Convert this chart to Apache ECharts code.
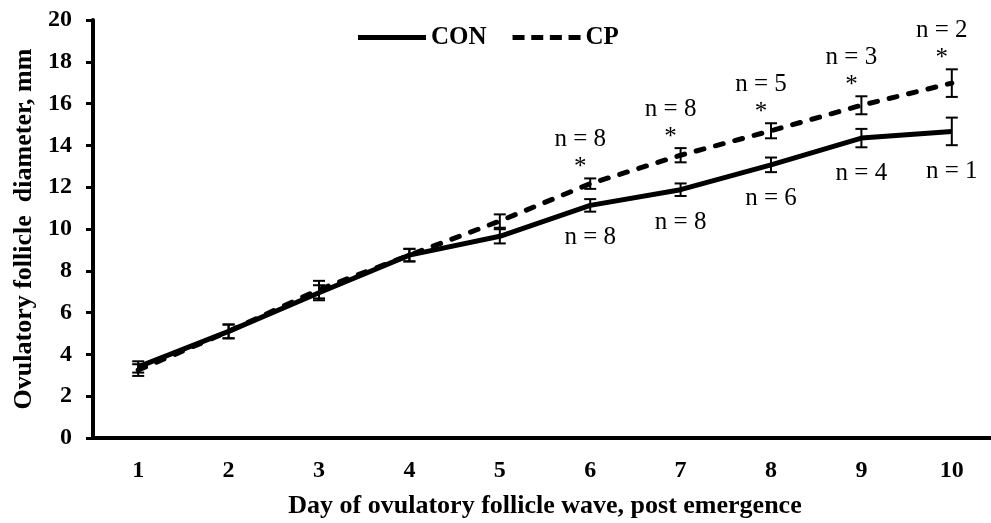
<!DOCTYPE html>
<html>
<head>
<meta charset="utf-8">
<script src="https://cdn.jsdelivr.net/npm/echarts@6/dist/echarts.min.js"></script>
<style>
html, body { margin: 0; padding: 0; background: #fff; }
#chart { width: 991px; height: 523px; }
</style>
</head>
<body>
<div id="chart"></div>
<script>
const days = ['1', '2', '3', '4', '5', '6', '7', '8', '9', '10'];
const yTicks = [0, 20, 2]; // min, max, step

const conMean = [3.4, 5.1, 6.95, 8.75, 9.65, 11.13, 11.88, 13.07, 14.35, 14.67];
const conSE = [0.27, 0.33, 0.36, 0.3, 0.34, 0.3, 0.3, 0.35, 0.44, 0.66];
const cpMean = [3.25, 5.1, 7.1, 8.75, 10.38, 12.17, 13.53, 14.7, 15.92, 16.98];
const cpSE = [0.28, 0.33, 0.42, 0.3, 0.32, 0.25, 0.34, 0.36, 0.43, 0.66];

const conN = [null, null, null, null, null, 8, 8, 6, 4, 1];
const cpN = [null, null, null, null, null, 8, 8, 5, 3, 2];
const cpStar = [false, false, false, false, false, true, true, true, true, true];

const serif = '"Liberation Serif", "Times New Roman", serif';
const bold = { fontFamily: serif, fontWeight: 'bold', color: '#000' };

// legend icons: solid bar and four dashes
const solidIcon = 'path://M0,0H68V5H0Z';
const dashIcon = 'path://M0,0H12V5H0Z M18.7,0H30.7V5H18.7Z M37.3,0H49.3V5H37.3Z M56,0H68V5H56Z';

// error bar + annotation drawer
function barRenderer(nList, starList, below) {
    return function (params, api) {
        const i = api.value(0), m = api.value(1), se = api.value(2);
        const top = api.coord([i, m + se]);
        const bot = api.coord([i, m - se]);
        const cap = 6;
        const st = { stroke: '#000', lineWidth: 2 };
        const children = [
            { type: 'line', shape: { x1: top[0], y1: top[1], x2: bot[0], y2: bot[1] }, style: st },
            { type: 'line', shape: { x1: top[0] - cap, y1: top[1], x2: top[0] + cap, y2: top[1] }, style: st },
            { type: 'line', shape: { x1: bot[0] - cap, y1: bot[1], x2: bot[0] + cap, y2: bot[1] }, style: st }
        ];
        const n = nList[params.dataIndex];
        const font = '25px ' + serif;
        if (n != null) {
            if (below) {
                children.push({ type: 'text', x: bot[0], y: bot[1] + 26,
                    style: { text: 'n = ' + n, font: font, fill: '#000', align: 'center', verticalAlign: 'middle' } });
            } else {
                const sy = top[1] - 15;
                if (starList && starList[params.dataIndex]) {
                    children.push({ type: 'text', x: top[0] - 10, y: sy + 4,
                        style: { text: '*', font: font, fill: '#000', align: 'center', verticalAlign: 'middle' } });
                }
                children.push({ type: 'text', x: top[0] - 10, y: sy - 24,
                    style: { text: 'n = ' + n, font: font, fill: '#000', align: 'center', verticalAlign: 'middle' } });
            }
        }
        return { type: 'group', children: children };
    };
}

const option = {
    animation: false,
    backgroundColor: '#fff',
    grid: { left: 93, top: 20, width: 904, height: 418, containLabel: false, outerBoundsMode: 'none' },
    legend: {
        data: [
            { name: 'CON', icon: solidIcon },
            { name: 'CP', icon: dashIcon }
        ],
        left: 353,
        top: 20,
        itemWidth: 68,
        itemHeight: 5,
        itemGap: 26,
        textStyle: { fontFamily: serif, fontWeight: 'bold', fontSize: 25, color: '#000' }
    },
    xAxis: {
        type: 'category',
        data: days,
        boundaryGap: true,
        name: 'Day of ovulatory follicle wave, post emergence',
        nameLocation: 'middle',
        nameGap: 55,
        nameTextStyle: Object.assign({ fontSize: 26 }, bold),
        axisLine: { lineStyle: { color: '#000', width: 4 } },
        axisTick: { length: 6, lineStyle: { color: '#000', width: 3 } },
        axisLabel: Object.assign({ fontSize: 24, margin: 21, interval: 0 }, bold),
        splitLine: { show: false }
    },
    yAxis: {
        type: 'value',
        min: yTicks[0],
        max: yTicks[1],
        interval: yTicks[2],
        name: 'Ovulatory follicle  diameter, mm',
        nameLocation: 'middle',
        nameGap: 55,
        nameRotate: 90,
        nameTextStyle: Object.assign({ fontSize: 26 }, bold),
        axisLine: { show: true, lineStyle: { color: '#000', width: 4 } },
        axisTick: { show: true, length: 7, lineStyle: { color: '#000', width: 3 } },
        axisLabel: Object.assign({ fontSize: 24, margin: 21 }, bold),
        splitLine: { show: false }
    },
    series: [
        {
            name: 'CON',
            type: 'line',
            data: conMean,
            symbol: 'none',
            lineStyle: { color: '#000', width: 5 },
            itemStyle: { color: '#000' },
            z: 3
        },
        {
            name: 'CP',
            type: 'line',
            data: cpMean,
            symbol: 'none',
            lineStyle: { color: '#000', width: 5, type: [8, 12], cap: 'round' },
            itemStyle: { color: '#000' },
            z: 3
        },
        {
            type: 'custom',
            renderItem: barRenderer(conN, null, true),
            data: conMean.map((v, i) => [i, v, conSE[i]]),
            z: 5
        },
        {
            type: 'custom',
            renderItem: barRenderer(cpN, cpStar, false),
            data: cpMean.map((v, i) => [i, v, cpSE[i]]),
            z: 5
        }
    ]
};

const chart = echarts.init(document.getElementById('chart'));
chart.setOption(option);
window.addEventListener('resize', function () {
    chart.resize();
});
</script>
</body>
</html>
